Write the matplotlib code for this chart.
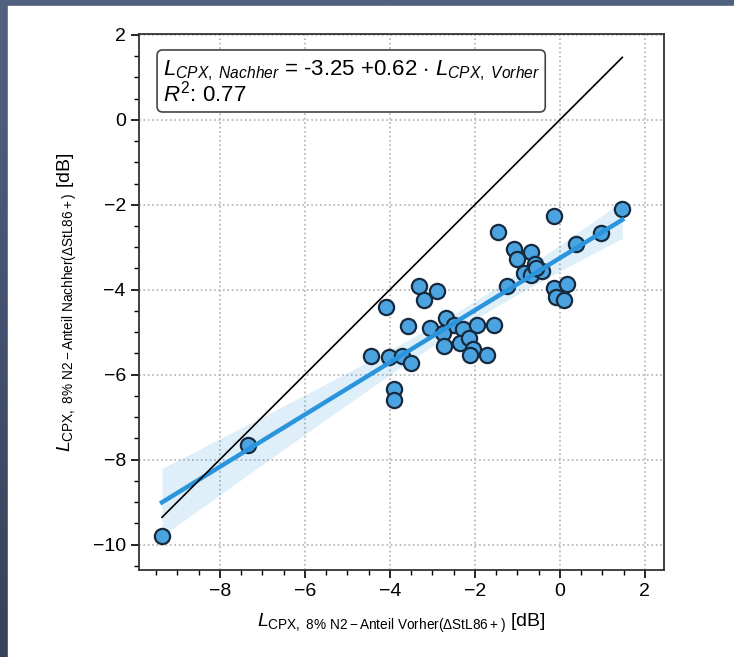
import numpy as np
import matplotlib
matplotlib.use('Agg')
import matplotlib.pyplot as plt
from matplotlib.patches import Rectangle
from matplotlib.ticker import MultipleLocator

# Messwerte: L_CPX vorher / nachher [dB]
vorher = [1.47, -0.14, -1.45, 0.96, 0.37, -1.07, -0.68, -1.00, -0.59, -0.84,
          -0.67, -0.43, -0.55, -1.25, -0.14, 0.17, -0.09, 0.10, -3.31, -2.88,
          -3.20, -4.08, -3.57, -3.06, -2.68, -2.49, -2.27, -1.94, -1.55, -2.76,
          -2.35, -2.13, -2.73, -2.04, -2.12, -1.72, -4.45, -4.02, -3.72, -3.49,
          -3.90, -3.90, -7.33, -9.36]
nachher = [-2.10, -2.26, -2.65, -2.67, -2.92, -3.04, -3.12, -3.27, -3.39, -3.61,
           -3.65, -3.55, -3.49, -3.92, -3.95, -3.86, -4.17, -4.25, -3.92, -4.02,
           -4.24, -4.41, -4.85, -4.90, -4.67, -4.82, -4.93, -4.82, -4.84, -5.02,
           -5.25, -5.14, -5.32, -5.40, -5.53, -5.53, -5.57, -5.59, -5.57, -5.73,
           -6.35, -6.60, -7.65, -9.79]

# Werte aus der Legende im Bild
achsenabschnitt = -3.25
steigung = 0.62
r_quadrat = 0.77

achsen_x = (-9.9, 2.45)
achsen_y = (-10.6, 2.02)

plt.rcParams['font.family'] = ['Liberation Sans', 'DejaVu Sans']
plt.rcParams['mathtext.fontset'] = 'custom'
plt.rcParams['mathtext.rm'] = 'Liberation Sans'
plt.rcParams['mathtext.it'] = 'Liberation Sans:italic'
plt.rcParams['mathtext.bf'] = 'Liberation Sans:bold'

x = np.array(vorher)
y = np.array(nachher)

# lineare Regression + 95% Konfidenzband
b, a = np.polyfit(x, y, 1)
n = len(x)
xs = np.linspace(x.min(), x.max(), 100)
ys = a + b * xs
res = y - (a + b * x)
s = np.sqrt(np.sum(res ** 2) / (n - 2))
sxx = np.sum((x - x.mean()) ** 2)
se = s * np.sqrt(1 / n + (xs - x.mean()) ** 2 / sxx)
t = 2.02

fig = plt.figure(figsize=(7.34, 6.57), dpi=100)

# Folienhintergrund
bg = fig.add_axes([0, 0, 1, 1], zorder=-10)
grad = np.linspace(0, 1, 256).reshape(-1, 1)
cmap = matplotlib.colors.LinearSegmentedColormap.from_list('bg', ['#516180', '#35425b'])
bg.imshow(grad, aspect='auto', cmap=cmap, extent=[0, 1, 0, 1])
bg.add_patch(Rectangle((8 / 734, 0), 1, 1 - 6 / 657, color='white'))
bg.set_xlim(0, 1)
bg.set_ylim(0, 1)
bg.axis('off')

ax = fig.add_axes([139 / 734, 87 / 657, 525 / 734, 536 / 657])

ax.fill_between(xs, ys - t * se, ys + t * se, color='#2b95dd', alpha=0.15, lw=0, zorder=2)
ax.scatter(x, y, s=120, color='#4ba3e0', edgecolor='#16293d', linewidth=1.6, zorder=3)
ax.plot(xs, ys, color='#2a95dd', lw=3.2, zorder=4)
ax.plot([x.min(), x.max()], [x.min(), x.max()], color='black', lw=1.2, zorder=5)

ax.set_xlim(achsen_x)
ax.set_ylim(achsen_y)
ax.xaxis.set_major_locator(MultipleLocator(2))
ax.yaxis.set_major_locator(MultipleLocator(2))
ax.xaxis.set_minor_locator(MultipleLocator(0.5))
ax.yaxis.set_minor_locator(MultipleLocator(0.5))
ax.tick_params(which='major', direction='out', length=6, width=1.2, labelsize=14)
ax.tick_params(which='minor', direction='out', length=3.5, width=1.0)
ax.grid(True, which='major', linestyle=':', color='#b0b0b0', lw=1.2)
for sp in ax.spines.values():
    sp.set_linewidth(1.3)
    sp.set_color('#333333')

ax.set_xlabel(r'$L_{\mathrm{CPX,\ 8\%\ N2-Anteil\ Vorher(\Delta StL86+)}}$ [dB]', fontsize=14, labelpad=8)
ax.set_ylabel(r'$L_{\mathrm{CPX,\ 8\%\ N2-Anteil\ Nachher(\Delta StL86+)}}$ [dB]', fontsize=14, labelpad=10)

txt = (r'$L_{CPX,\ Nachher}$ = %.2f +%.2f $\cdot$ $L_{CPX,\ Vorher}$' % (achsenabschnitt, steigung)
       + '\n' + r'$R^2$: %.2f' % r_quadrat)
ax.text(0.045, 0.955, txt, transform=ax.transAxes, fontsize=16, va='top', ha='left',
        linespacing=0.9, zorder=6,
        bbox=dict(boxstyle='round,pad=0.25', fc='white', ec='#444444', lw=1.2))

fig.savefig('out.png', dpi=100)
